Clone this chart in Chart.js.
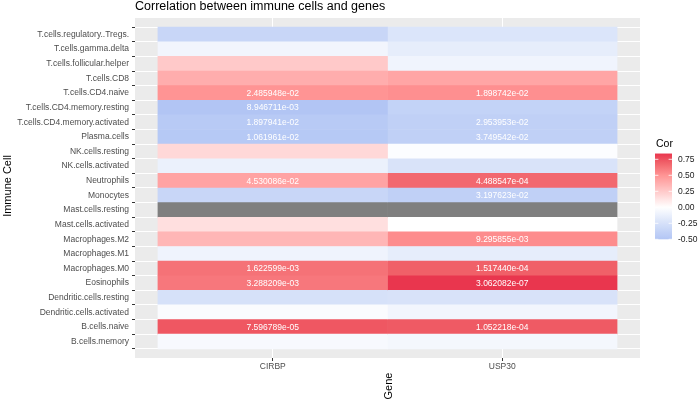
<!DOCTYPE html>
<html>
<head>
<meta charset="utf-8">
<script src="https://cdn.jsdelivr.net/npm/chart.js@4.4.1/dist/chart.umd.min.js"></script>
<style>
  html, body { margin: 0; padding: 0; background: #ffffff; }
  #wrap { width: 700px; height: 401px; position: relative; }
</style>
</head>
<body>
<div id="wrap"><canvas id="heatmap"></canvas></div>
<script>
// rows listed top to bottom, as they appear in the picture
const cellTypes = [
  "T.cells.regulatory..Tregs.",
  "T.cells.gamma.delta",
  "T.cells.follicular.helper",
  "T.cells.CD8",
  "T.cells.CD4.naive",
  "T.cells.CD4.memory.resting",
  "T.cells.CD4.memory.activated",
  "Plasma.cells",
  "NK.cells.resting",
  "NK.cells.activated",
  "Neutrophils",
  "Monocytes",
  "Mast.cells.resting",
  "Mast.cells.activated",
  "Macrophages.M2",
  "Macrophages.M1",
  "Macrophages.M0",
  "Eosinophils",
  "Dendritic.cells.resting",
  "Dendritic.cells.activated",
  "B.cells.naive",
  "B.cells.memory",
];
const genes = ["CIRBP", "USP30"];

// correlation per cell type (null = NA, drawn grey)
const corCIRBP = [
  -0.35, -0.08, 0.25, 0.38, 0.5, -0.5, -0.46, -0.47, 0.18, -0.12, 0.43,
  -0.35, null, 0.15, 0.34, -0.1, 0.63, 0.61, -0.25, -0.03, 0.73, -0.05,
];
const corUSP30 = [
  -0.22, -0.15, -0.09, 0.42, 0.52, -0.38, -0.4, -0.4, -0.02, -0.23, 0.67,
  -0.4, null, 0.0, 0.53, -0.15, 0.7, 0.84, -0.24, -0.08, 0.72, -0.07,
];

// p-values printed in the significant cells
const pCIRBP = [
  "", "", "", "", "2.485948e-02", "8.946711e-03", "1.897941e-02", "1.061961e-02",
  "", "", "4.530086e-02", "", "", "", "", "", "1.622599e-03", "3.288209e-03",
  "", "", "7.596789e-05", "",
];
const pUSP30 = [
  "", "", "", "", "1.898742e-02", "", "2.953953e-02", "3.749542e-02",
  "", "", "4.488547e-04", "3.197623e-02", "", "", "9.295855e-03", "",
  "1.517440e-04", "3.062082e-07", "", "", "1.052218e-04", "",
];

const legendTicks = [0.75, 0.5, 0.25, 0, -0.25, -0.5];

const FONT = "'Liberation Sans', Arial, sans-serif";
const NA_COLOR = "#7f7f7f";
const COLOR_STOPS = [
  [-0.52, [175, 195, 244]],
  [-0.25, [214, 225, 249]],
  [0, [255, 255, 255]],
  [0.25, [255, 201, 201]],
  [0.5, [255, 148, 148]],
  [0.7, [240, 96, 104]],
  [0.86, [232, 48, 74]],
];

function corColor(v) {
  if (v === null || v === undefined) {
    return NA_COLOR;
  }
  if (v <= COLOR_STOPS[0][0]) {
    return `rgb(${COLOR_STOPS[0][1].join(",")})`;
  }
  for (let i = 1; i < COLOR_STOPS.length; i += 1) {
    const [v1, c1] = COLOR_STOPS[i];
    const [v0, c0] = COLOR_STOPS[i - 1];
    if (v <= v1) {
      const t = (v - v0) / (v1 - v0);
      const c = c0.map((x, k) => Math.round(x + (c1[k] - x) * t));
      return `rgb(${c.join(",")})`;
    }
  }
  return `rgb(${COLOR_STOPS[COLOR_STOPS.length - 1][1].join(",")})`;
}

function tileData(col) {
  return cellTypes.map((_, i) => ({ x: [col - 0.5, col + 0.5], y: i }));
}

const allCor = corCIRBP.concat(corUSP30).filter((v) => v !== null);
const corMax = Math.max(...allCor);
const corMin = Math.min(...allCor);

const panelBg = {
  id: "panelBg",
  beforeDraw(chart) {
    const { ctx, chartArea: a } = chart;
    ctx.save();
    ctx.fillStyle = "#ebebeb";
    ctx.fillRect(a.left, a.top, a.right - a.left, a.bottom - a.top);
    ctx.restore();
  },
};

const extras = {
  id: "extras",
  afterDraw(chart) {
    const { ctx, chartArea: a } = chart;
    const xs = chart.scales.x;
    const ys = chart.scales.y;
    ctx.save();

    // cell labels
    ctx.fillStyle = "#ffffff";
    ctx.font = `8.5px ${FONT}`;
    ctx.textAlign = "center";
    ctx.textBaseline = "middle";
    [pCIRBP, pUSP30].forEach((labels, c) => {
      labels.forEach((txt, i) => {
        if (txt) {
          ctx.fillText(txt, xs.getPixelForValue(c + 1), ys.getPixelForValue(i) + 0.5);
        }
      });
    });

    // title
    ctx.fillStyle = "#000000";
    ctx.font = `12.5px ${FONT}`;
    ctx.textAlign = "left";
    ctx.fillText("Correlation between immune cells and genes", a.left, 7);

    // axis titles, both rotated
    ctx.font = `11px ${FONT}`;
    ctx.textAlign = "center";
    ctx.save();
    ctx.translate(8, (a.top + a.bottom) / 2 - 2);
    ctx.rotate(-Math.PI / 2);
    ctx.fillText("Immune Cell", 0, 0);
    ctx.restore();
    ctx.save();
    ctx.translate((a.left + a.right) / 2 + 1, 386);
    ctx.rotate(-Math.PI / 2);
    ctx.fillText("Gene", 0, 0);
    ctx.restore();

    // colour bar legend
    const barX = 655;
    const barW = 17;
    const zeroY = 207.3;
    const perUnit = 64;
    const yOf = (v) => zeroY - v * perUnit;
    const top = yOf(corMax);
    const bottom = yOf(corMin);
    ctx.textAlign = "left";
    ctx.font = `10.5px ${FONT}`;
    ctx.fillText("Cor", 656, 144);
    const grad = ctx.createLinearGradient(0, top, 0, bottom);
    const steps = 40;
    for (let s = 0; s <= steps; s += 1) {
      const v = corMax - (corMax - corMin) * (s / steps);
      grad.addColorStop(s / steps, corColor(v));
    }
    ctx.fillStyle = grad;
    ctx.fillRect(barX, top, barW, bottom - top);
    ctx.strokeStyle = "#ffffff";
    ctx.lineWidth = 0.8;
    ctx.fillStyle = "#1a1a1a";
    ctx.font = `8.5px ${FONT}`;
    legendTicks.forEach((v) => {
      const y = yOf(v);
      ctx.beginPath();
      ctx.moveTo(barX, y);
      ctx.lineTo(barX + 3.4, y);
      ctx.moveTo(barX + barW - 3.4, y);
      ctx.lineTo(barX + barW, y);
      ctx.stroke();
      ctx.fillText(v.toFixed(2), 678, y);
    });

    ctx.restore();
  },
};

new Chart(document.getElementById("heatmap"), {
  type: "bar",
  data: {
    datasets: genes.map((g, c) => ({
      label: g,
      data: tileData(c + 1),
      backgroundColor: (c === 0 ? corCIRBP : corUSP30).map(corColor),
      borderWidth: 0,
      grouped: false,
      barPercentage: 1,
      categoryPercentage: 1,
    })),
  },
  options: {
    indexAxis: "y",
    responsive: true,
    maintainAspectRatio: false,
    animation: false,
    layout: { padding: { left: 0, top: 18, right: 60, bottom: 0 } },
    plugins: {
      legend: { display: false },
      tooltip: { enabled: false },
    },
    scales: {
      x: {
        type: "linear",
        min: 0.4,
        max: 2.6,
        afterBuildTicks: (scale) => {
          scale.ticks = genes.map((_, i) => ({ value: i + 1 }));
        },
        afterFit: (scale) => {
          scale.height = 43;
        },
        ticks: {
          autoSkip: false,
          padding: 1,
          color: "#4d4d4d",
          font: { family: FONT, size: 8.5 },
          callback: (v) => genes[v - 1],
        },
        grid: {
          color: "#ffffff",
          lineWidth: 1,
          tickColor: "#333333",
          tickLength: 3,
        },
        border: { display: false },
      },
      y: {
        type: "linear",
        reverse: true,
        min: -0.6,
        max: cellTypes.length - 0.4,
        afterBuildTicks: (scale) => {
          scale.ticks = cellTypes.map((_, i) => ({ value: i }));
        },
        afterFit: (scale) => {
          scale.width = 135;
        },
        ticks: {
          autoSkip: false,
          padding: 3,
          color: "#4d4d4d",
          font: { family: FONT, size: 8.5 },
          callback: (v) => cellTypes[v],
        },
        grid: {
          color: "#ffffff",
          lineWidth: 1,
          tickColor: "#333333",
          tickLength: 3,
        },
        border: { display: false },
      },
    },
  },
  plugins: [panelBg, extras],
});
</script>
</body>
</html>
